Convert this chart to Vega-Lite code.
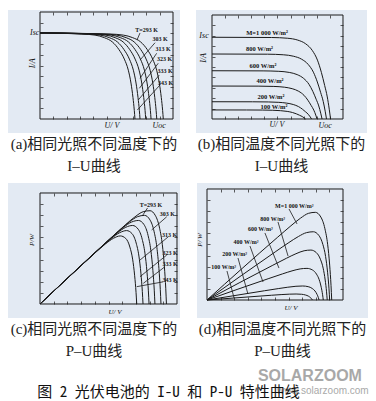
{
  "$schema": "https://vega.github.io/schema/vega-lite/v6.json",
  "padding": {"left": 8, "top": 10, "right": 0, "bottom": 0},
  "background": "white",
  "spacing": 9,
  "config": {
    "view": {"stroke": null},
    "axis": {"labels": false, "domain": false, "grid": false, "tickSize": 3, "tickColor": "#333", "tickWidth": 0.8},
    "title": {"orient": "bottom", "anchor": "middle", "offset": 4, "fontSize": 15, "lineHeight": 22, "fontWeight": "normal", "font": "Liberation Serif, Noto Sans CJK SC", "color": "#222"}
  },
  "datasets": {
    "box": [{"x0": 0, "x1": 1, "y0": 0, "y1": 1}],
    "curvesA": [
      {"s":"343","u":0.714,"i":0},{"s":"343","u":0.709,"i":0.08},{"s":"343","u":0.699,"i":0.2},{"s":"343","u":0.684,"i":0.336},{"s":"343","u":0.664,"i":0.456},{"s":"343","u":0.634,"i":0.56},{"s":"343","u":0.594,"i":0.648},{"s":"343","u":0.544,"i":0.72},{"s":"343","u":0.484,"i":0.76},{"s":"343","u":0.414,"i":0.784},{"s":"343","u":0.314,"i":0.794},{"s":"343","u":0,"i":0.805},
      {"s":"333","u":0.752,"i":0},{"s":"333","u":0.747,"i":0.08},{"s":"333","u":0.737,"i":0.2},{"s":"333","u":0.722,"i":0.336},{"s":"333","u":0.702,"i":0.456},{"s":"333","u":0.672,"i":0.56},{"s":"333","u":0.632,"i":0.648},{"s":"333","u":0.582,"i":0.72},{"s":"333","u":0.522,"i":0.76},{"s":"333","u":0.452,"i":0.784},{"s":"333","u":0.352,"i":0.794},{"s":"333","u":0,"i":0.805},
      {"s":"323","u":0.795,"i":0},{"s":"323","u":0.79,"i":0.08},{"s":"323","u":0.78,"i":0.2},{"s":"323","u":0.765,"i":0.336},{"s":"323","u":0.745,"i":0.456},{"s":"323","u":0.715,"i":0.56},{"s":"323","u":0.675,"i":0.648},{"s":"323","u":0.625,"i":0.72},{"s":"323","u":0.565,"i":0.76},{"s":"323","u":0.495,"i":0.784},{"s":"323","u":0.395,"i":0.794},{"s":"323","u":0,"i":0.805},
      {"s":"313","u":0.835,"i":0},{"s":"313","u":0.83,"i":0.08},{"s":"313","u":0.82,"i":0.2},{"s":"313","u":0.805,"i":0.336},{"s":"313","u":0.785,"i":0.456},{"s":"313","u":0.755,"i":0.56},{"s":"313","u":0.715,"i":0.648},{"s":"313","u":0.665,"i":0.72},{"s":"313","u":0.605,"i":0.76},{"s":"313","u":0.535,"i":0.784},{"s":"313","u":0.435,"i":0.794},{"s":"313","u":0,"i":0.805},
      {"s":"303","u":0.878,"i":0},{"s":"303","u":0.873,"i":0.08},{"s":"303","u":0.863,"i":0.2},{"s":"303","u":0.848,"i":0.336},{"s":"303","u":0.828,"i":0.456},{"s":"303","u":0.798,"i":0.56},{"s":"303","u":0.758,"i":0.648},{"s":"303","u":0.708,"i":0.72},{"s":"303","u":0.648,"i":0.76},{"s":"303","u":0.578,"i":0.784},{"s":"303","u":0.478,"i":0.794},{"s":"303","u":0,"i":0.805},
      {"s":"293","u":0.927,"i":0},{"s":"293","u":0.922,"i":0.08},{"s":"293","u":0.912,"i":0.2},{"s":"293","u":0.897,"i":0.336},{"s":"293","u":0.877,"i":0.456},{"s":"293","u":0.847,"i":0.56},{"s":"293","u":0.807,"i":0.648},{"s":"293","u":0.757,"i":0.72},{"s":"293","u":0.697,"i":0.76},{"s":"293","u":0.627,"i":0.784},{"s":"293","u":0.527,"i":0.794},{"s":"293","u":0,"i":0.805}
    ],
    "leadA": [
      {"x":0.752,"y":0.804,"x2":0.729,"y2":0.738},
      {"x":0.865,"y":0.713,"x2":0.752,"y2":0.551},
      {"x":0.877,"y":0.614,"x2":0.752,"y2":0.38},
      {"x":0.889,"y":0.521,"x2":0.747,"y2":0.287},
      {"x":0.897,"y":0.411,"x2":0.739,"y2":0.178},
      {"x":0.902,"y":0.318,"x2":0.732,"y2":0.084}
    ],
    "labA": [
      {"t":"T=293 K","x":0.801,"y":0.832},{"t":"303 K","x":0.902,"y":0.748},{"t":"313 K","x":0.925,"y":0.654},
      {"t":"323 K","x":0.936,"y":0.561},{"t":"333 K","x":0.94,"y":0.449},{"t":"343 K","x":0.944,"y":0.336}
    ],
    "annA": [{"t":"Isc","x":-0.04,"y":0.8},{"t":"U/ V","x":0.54,"y":-0.065},{"t":"Uoc","x":0.895,"y":-0.065}],
    "rotA": [{"t":"I/A","x":-0.05,"y":0.52}],
    "curvesB": [
      {"s":"1000","u":0.905,"i":0},{"s":"1000","u":0.895,"i":0.0943},{"s":"1000","u":0.88,"i":0.2122},{"s":"1000","u":0.86,"i":0.3223},{"s":"1000","u":0.835,"i":0.448},{"s":"1000","u":0.805,"i":0.5659},{"s":"1000","u":0.765,"i":0.6602},{"s":"1000","u":0.715,"i":0.7231},{"s":"1000","u":0.655,"i":0.7585},{"s":"1000","u":0.575,"i":0.7766},{"s":"1000","u":0.455,"i":0.7836},{"s":"1000","u":0,"i":0.786},
      {"s":"800","u":0.874,"i":0},{"s":"800","u":0.864,"i":0.075},{"s":"800","u":0.849,"i":0.1688},{"s":"800","u":0.829,"i":0.2563},{"s":"800","u":0.804,"i":0.3563},{"s":"800","u":0.774,"i":0.45},{"s":"800","u":0.734,"i":0.525},{"s":"800","u":0.684,"i":0.575},{"s":"800","u":0.624,"i":0.6031},{"s":"800","u":0.544,"i":0.6175},{"s":"800","u":0.424,"i":0.6231},{"s":"800","u":0,"i":0.625},
      {"s":"600","u":0.84,"i":0},{"s":"600","u":0.83,"i":0.0557},{"s":"600","u":0.815,"i":0.1253},{"s":"600","u":0.795,"i":0.1902},{"s":"600","u":0.77,"i":0.2645},{"s":"600","u":0.74,"i":0.3341},{"s":"600","u":0.7,"i":0.3898},{"s":"600","u":0.65,"i":0.4269},{"s":"600","u":0.59,"i":0.4478},{"s":"600","u":0.51,"i":0.4584},{"s":"600","u":0.39,"i":0.4626},{"s":"600","u":0,"i":0.464},
      {"s":"400","u":0.802,"i":0},{"s":"400","u":0.792,"i":0.038},{"s":"400","u":0.777,"i":0.0856},{"s":"400","u":0.757,"i":0.13},{"s":"400","u":0.732,"i":0.1807},{"s":"400","u":0.702,"i":0.2282},{"s":"400","u":0.662,"i":0.2663},{"s":"400","u":0.612,"i":0.2916},{"s":"400","u":0.552,"i":0.3059},{"s":"400","u":0.472,"i":0.3132},{"s":"400","u":0.352,"i":0.316},{"s":"400","u":0,"i":0.317},
      {"s":"200","u":0.76,"i":0},{"s":"200","u":0.75,"i":0.0199},{"s":"200","u":0.735,"i":0.0448},{"s":"200","u":0.715,"i":0.0681},{"s":"200","u":0.69,"i":0.0946},{"s":"200","u":0.66,"i":0.1195},{"s":"200","u":0.62,"i":0.1394},{"s":"200","u":0.57,"i":0.1527},{"s":"200","u":0.51,"i":0.1602},{"s":"200","u":0.43,"i":0.164},{"s":"200","u":0.31,"i":0.1655},{"s":"200","u":0,"i":0.166},
      {"s":"100","u":0.714,"i":0},{"s":"100","u":0.704,"i":0.0104},{"s":"100","u":0.689,"i":0.0235},{"s":"100","u":0.669,"i":0.0357},{"s":"100","u":0.644,"i":0.0496},{"s":"100","u":0.614,"i":0.0626},{"s":"100","u":0.574,"i":0.0731},{"s":"100","u":0.524,"i":0.08},{"s":"100","u":0.464,"i":0.084},{"s":"100","u":0.384,"i":0.086},{"s":"100","u":0.264,"i":0.0867},{"s":"100","u":0,"i":0.087}
    ],
    "labB": [
      {"t":"M=1 000 W/m²","x":0.42,"y":0.83},{"t":"800 W/m²","x":0.363,"y":0.67},{"t":"600 W/m²","x":0.389,"y":0.513},
      {"t":"400 W/m²","x":0.443,"y":0.365},{"t":"200 W/m²","x":0.45,"y":0.209},{"t":"100 W/m²","x":0.473,"y":0.113}
    ],
    "annB": [{"t":"Isc","x":-0.061,"y":0.798},{"t":"U/ V","x":0.496,"y":-0.058},{"t":"Uoc","x":0.863,"y":-0.067}],
    "rotB": [{"t":"I/A","x":-0.061,"y":0.587}],
    "curvesC": [
      {"s":"343","u":0.706,"p":0},{"s":"343","u":0.701,"p":0.1048},{"s":"343","u":0.691,"p":0.2543},{"s":"343","u":0.676,"p":0.4042},{"s":"343","u":0.656,"p":0.513},{"s":"343","u":0.626,"p":0.5903},{"s":"343","u":0.586,"p":0.6133},{"s":"343","u":0.536,"p":0.5917},{"s":"343","u":0.476,"p":0.5392},{"s":"343","u":0.406,"p":0.4646},{"s":"343","u":0.306,"p":0.3519},{"s":"343","u":0,"p":0},
      {"s":"333","u":0.752,"p":0},{"s":"333","u":0.747,"p":0.1117},{"s":"333","u":0.737,"p":0.2712},{"s":"333","u":0.722,"p":0.4318},{"s":"333","u":0.702,"p":0.549},{"s":"333","u":0.672,"p":0.6337},{"s":"333","u":0.632,"p":0.6614},{"s":"333","u":0.582,"p":0.6425},{"s":"333","u":0.522,"p":0.5913},{"s":"333","u":0.452,"p":0.5172},{"s":"333","u":0.352,"p":0.4048},{"s":"333","u":0,"p":0},
      {"s":"323","u":0.796,"p":0},{"s":"323","u":0.791,"p":0.1183},{"s":"323","u":0.781,"p":0.2874},{"s":"323","u":0.766,"p":0.4581},{"s":"323","u":0.746,"p":0.5834},{"s":"323","u":0.716,"p":0.6752},{"s":"323","u":0.676,"p":0.7074},{"s":"323","u":0.626,"p":0.6911},{"s":"323","u":0.566,"p":0.6411},{"s":"323","u":0.496,"p":0.5675},{"s":"323","u":0.396,"p":0.4554},{"s":"323","u":0,"p":0},
      {"s":"313","u":0.839,"p":0},{"s":"313","u":0.834,"p":0.1247},{"s":"313","u":0.824,"p":0.3032},{"s":"313","u":0.809,"p":0.4838},{"s":"313","u":0.789,"p":0.617},{"s":"313","u":0.759,"p":0.7158},{"s":"313","u":0.719,"p":0.7525},{"s":"313","u":0.669,"p":0.7386},{"s":"313","u":0.609,"p":0.6899},{"s":"313","u":0.539,"p":0.6168},{"s":"313","u":0.439,"p":0.5049},{"s":"313","u":0,"p":0},
      {"s":"303","u":0.883,"p":0},{"s":"303","u":0.878,"p":0.1313},{"s":"303","u":0.868,"p":0.3194},{"s":"303","u":0.853,"p":0.5101},{"s":"303","u":0.833,"p":0.6514},{"s":"303","u":0.803,"p":0.7573},{"s":"303","u":0.763,"p":0.7985},{"s":"303","u":0.713,"p":0.7872},{"s":"303","u":0.653,"p":0.7397},{"s":"303","u":0.583,"p":0.6671},{"s":"303","u":0.483,"p":0.5555},{"s":"303","u":0,"p":0},
      {"s":"293","u":0.923,"p":0},{"s":"293","u":0.918,"p":0.1372},{"s":"293","u":0.908,"p":0.3341},{"s":"293","u":0.893,"p":0.534},{"s":"293","u":0.873,"p":0.6827},{"s":"293","u":0.843,"p":0.795},{"s":"293","u":0.803,"p":0.8404},{"s":"293","u":0.753,"p":0.8313},{"s":"293","u":0.693,"p":0.785},{"s":"293","u":0.623,"p":0.7129},{"s":"293","u":0.523,"p":0.6015},{"s":"293","u":0,"p":0}
    ],
    "leadC": [
      {"x":0.785,"y":0.865,"x2":0.75,"y2":0.8},
      {"x":0.925,"y":0.786,"x2":0.815,"y2":0.667},
      {"x":0.937,"y":0.606,"x2":0.73,"y2":0.396},
      {"x":0.925,"y":0.441,"x2":0.73,"y2":0.246},
      {"x":0.912,"y":0.336,"x2":0.754,"y2":0.186},
      {"x":0.9,"y":0.2,"x2":0.706,"y2":0.156}
    ],
    "labC": [
      {"t":"T=293 K","x":0.81,"y":0.896},{"t":"303 K","x":0.93,"y":0.811},{"t":"313 K","x":0.945,"y":0.62},
      {"t":"323 K","x":0.95,"y":0.46},{"t":"333 K","x":0.95,"y":0.36},{"t":"343 K","x":0.95,"y":0.22}
    ],
    "annC": [{"t":"U/ V","x":0.547,"y":-0.069}],
    "rotC": [{"t":"P/W","x":-0.061,"y":0.577}],
    "curvesD": [
      {"s":"1000","u":0.917,"p":0},{"s":"1000","u":0.912,"p":0.1291},{"s":"1000","u":0.902,"p":0.3143},{"s":"1000","u":0.887,"p":0.5023},{"s":"1000","u":0.867,"p":0.6421},{"s":"1000","u":0.837,"p":0.7474},{"s":"1000","u":0.797,"p":0.7898},{"s":"1000","u":0.747,"p":0.781},{"s":"1000","u":0.687,"p":0.7369},{"s":"1000","u":0.617,"p":0.6685},{"s":"1000","u":0.517,"p":0.563},{"s":"1000","u":0,"p":0},
      {"s":"800","u":0.902,"p":0},{"s":"800","u":0.897,"p":0.1008},{"s":"800","u":0.887,"p":0.2452},{"s":"800","u":0.872,"p":0.3918},{"s":"800","u":0.852,"p":0.5005},{"s":"800","u":0.822,"p":0.5824},{"s":"800","u":0.782,"p":0.6148},{"s":"800","u":0.732,"p":0.6071},{"s":"800","u":0.672,"p":0.5719},{"s":"800","u":0.602,"p":0.5175},{"s":"800","u":0.502,"p":0.4337},{"s":"800","u":0,"p":0},
      {"s":"600","u":0.884,"p":0},{"s":"600","u":0.879,"p":0.0739},{"s":"600","u":0.869,"p":0.1799},{"s":"600","u":0.854,"p":0.2873},{"s":"600","u":0.834,"p":0.3669},{"s":"600","u":0.804,"p":0.4266},{"s":"600","u":0.764,"p":0.4498},{"s":"600","u":0.714,"p":0.4435},{"s":"600","u":0.654,"p":0.4168},{"s":"600","u":0.584,"p":0.3759},{"s":"600","u":0.484,"p":0.3131},{"s":"600","u":0,"p":0},
      {"s":"400","u":0.855,"p":0},{"s":"400","u":0.85,"p":0.0471},{"s":"400","u":0.84,"p":0.1145},{"s":"400","u":0.825,"p":0.1828},{"s":"400","u":0.805,"p":0.2332},{"s":"400","u":0.775,"p":0.2708},{"s":"400","u":0.735,"p":0.2849},{"s":"400","u":0.685,"p":0.2801},{"s":"400","u":0.625,"p":0.2623},{"s":"400","u":0.555,"p":0.2352},{"s":"400","u":0.455,"p":0.1938},{"s":"400","u":0,"p":0},
      {"s":"200","u":0.824,"p":0},{"s":"200","u":0.819,"p":0.021},{"s":"200","u":0.809,"p":0.051},{"s":"200","u":0.794,"p":0.0813},{"s":"200","u":0.774,"p":0.1037},{"s":"200","u":0.744,"p":0.1202},{"s":"200","u":0.704,"p":0.1262},{"s":"200","u":0.654,"p":0.1236},{"s":"200","u":0.594,"p":0.1152},{"s":"200","u":0.524,"p":0.1027},{"s":"200","u":0.424,"p":0.0835},{"s":"200","u":0,"p":0},
      {"s":"100","u":0.775,"p":0},{"s":"100","u":0.77,"p":0.0091},{"s":"100","u":0.76,"p":0.022},{"s":"100","u":0.745,"p":0.0351},{"s":"100","u":0.725,"p":0.0447},{"s":"100","u":0.695,"p":0.0517},{"s":"100","u":0.655,"p":0.054},{"s":"100","u":0.605,"p":0.0526},{"s":"100","u":0.545,"p":0.0487},{"s":"100","u":0.475,"p":0.0428},{"s":"100","u":0.375,"p":0.034},{"s":"100","u":0,"p":0}
    ],
    "leadD": [
      {"x":0.603,"y":0.82,"x2":0.662,"y2":0.685},
      {"x":0.522,"y":0.703,"x2":0.596,"y2":0.396},
      {"x":0.426,"y":0.604,"x2":0.529,"y2":0.288},
      {"x":0.316,"y":0.486,"x2":0.412,"y2":0.162},
      {"x":0.228,"y":0.378,"x2":0.301,"y2":0.054},
      {"x":0.147,"y":0.261,"x2":0.199,"y2":0.018}
    ],
    "labD": [
      {"t":"M=1 000 W/m²","x":0.642,"y":0.847},{"t":"800 W/m²","x":0.483,"y":0.73},{"t":"600 W/m²","x":0.392,"y":0.637},
      {"t":"400 W/m²","x":0.287,"y":0.52},{"t":"200 W/m²","x":0.203,"y":0.412},{"t":"100 W/m²","x":0.123,"y":0.295}
    ],
    "annD": [{"t":"U/ V","x":0.618,"y":-0.075}],
    "rotD": [{"t":"P/ W","x":-0.049,"y":0.541}],
    "capMain": [{"t":"图 2 光伏电池的 I-U 和 P-U 特性曲线","x":0.447,"y":0.394}],
    "wm1": [{"t":"SOLARZOOM","x":0.841,"y":0.87}],
    "wm2": [{"t":"www.solarzoom.com","x":0.877,"y":0.42}]
  },
  "vconcat": [
    {
      "spacing": 16,
      "hconcat": [
        {
          "width": 172, "height": 123,
          "view": {"fill": "#e3eaf3", "stroke": null},
          "title": {"text": ["(a)相同光照不同温度下的", "I–U曲线"]},
          "resolve": {"axis": {"x": "independent", "y": "independent"}},
          "layer": [
            {"data": {"name": "box"}, "mark": {"type": "rect", "fill": "white", "fillOpacity": 0, "stroke": "#1a1a1a", "strokeWidth": 1},
             "encoding": {
               "x": {"field": "x0", "type": "quantitative", "scale": {"domain": [-0.2406, 1.0526], "nice": false, "zero": false}, "axis": {"orient": "top", "offset": -109, "title": null, "values": [0.1,0.2,0.3,0.4,0.5,0.6,0.7,0.8,0.9]}},
               "x2": {"field": "x1"},
               "y": {"field": "y0", "type": "quantitative", "scale": {"domain": [-0.1308, 1.0187], "nice": false, "zero": false}, "axis": {"orient": "right", "offset": -140, "title": null, "values": [0.1,0.2,0.3,0.4,0.5,0.6,0.7,0.8,0.9]}},
               "y2": {"field": "y1"}}},
            {"data": {"name": "curvesA"}, "mark": {"type": "line", "interpolate": "monotone", "color": "#1a1a1a", "strokeWidth": 1},
             "encoding": {
               "x": {"field": "u", "type": "quantitative", "scale": {"domain": [-0.2406, 1.0526], "nice": false, "zero": false}, "axis": {"orient": "bottom", "offset": -121, "title": null, "values": [0.1,0.2,0.3,0.4,0.5,0.6,0.7,0.8,0.9]}},
               "y": {"field": "i", "type": "quantitative", "scale": {"domain": [-0.1308, 1.0187], "nice": false, "zero": false}, "axis": {"orient": "left", "offset": -165, "title": null, "values": [0.1,0.2,0.3,0.4,0.5,0.6,0.7,0.8,0.9]}},
               "detail": {"field": "s"}}},
            {"data": {"name": "leadA"}, "mark": {"type": "rule", "color": "#1a1a1a", "strokeWidth": 0.8},
             "encoding": {"x": {"field": "x", "type": "quantitative", "axis": null}, "y": {"field": "y", "type": "quantitative", "axis": null}, "x2": {"field": "x2"}, "y2": {"field": "y2"}}},
            {"data": {"name": "labA"}, "mark": {"type": "text", "font": "Liberation Serif", "fontSize": 6, "fontWeight": "bold", "color": "#111"},
             "encoding": {"x": {"field": "x", "type": "quantitative", "axis": null}, "y": {"field": "y", "type": "quantitative", "axis": null}, "text": {"field": "t"}}},
            {"data": {"name": "annA"}, "mark": {"type": "text", "font": "Liberation Serif", "fontSize": 8, "fontStyle": "italic", "color": "#111"},
             "encoding": {"x": {"field": "x", "type": "quantitative", "axis": null}, "y": {"field": "y", "type": "quantitative", "axis": null}, "text": {"field": "t"}}},
            {"data": {"name": "rotA"}, "mark": {"type": "text", "font": "Liberation Serif", "fontSize": 8, "fontStyle": "italic", "angle": 270, "color": "#111"},
             "encoding": {"x": {"field": "x", "type": "quantitative", "axis": null}, "y": {"field": "y", "type": "quantitative", "axis": null}, "text": {"field": "t"}}}
          ]
        },
        {
          "width": 171, "height": 123,
          "view": {"fill": "#e3eaf3", "stroke": null},
          "title": {"text": ["(b)相同温度不同光照下的", "I–U曲线"]},
          "resolve": {"axis": {"x": "independent", "y": "independent"}},
          "layer": [
            {"data": {"name": "box"}, "mark": {"type": "rect", "fill": "white", "fillOpacity": 0, "stroke": "#1a1a1a", "strokeWidth": 1},
             "encoding": {
               "x": {"field": "x0", "type": "quantitative", "scale": {"domain": [-0.12214, 1.18321], "nice": false, "zero": false}, "axis": {"orient": "top", "offset": -109, "title": null, "values": [0.1,0.2,0.3,0.4,0.5,0.6,0.7,0.8,0.9]}},
               "x2": {"field": "x1"},
               "y": {"field": "y0", "type": "quantitative", "scale": {"domain": [-0.13462, 1.04808], "nice": false, "zero": false}, "axis": {"orient": "right", "offset": -155, "title": null, "values": [0.1,0.2,0.3,0.4,0.5,0.6,0.7,0.8,0.9]}},
               "y2": {"field": "y1"}}},
            {"data": {"name": "curvesB"}, "mark": {"type": "line", "interpolate": "monotone", "color": "#1a1a1a", "strokeWidth": 1},
             "encoding": {
               "x": {"field": "u", "type": "quantitative", "scale": {"domain": [-0.12214, 1.18321], "nice": false, "zero": false}, "axis": {"orient": "bottom", "offset": -118, "title": null, "values": [0.1,0.2,0.3,0.4,0.5,0.6,0.7,0.8,0.9]}},
               "y": {"field": "i", "type": "quantitative", "scale": {"domain": [-0.13462, 1.04808], "nice": false, "zero": false}, "axis": {"orient": "left", "offset": -147, "title": null, "values": [0.1,0.2,0.3,0.4,0.5,0.6,0.7,0.8,0.9]}},
               "detail": {"field": "s"}}},
            {"data": {"name": "labB"}, "mark": {"type": "text", "font": "Liberation Serif", "fontSize": 6.5, "fontWeight": "bold", "color": "#111"},
             "encoding": {"x": {"field": "x", "type": "quantitative", "axis": null}, "y": {"field": "y", "type": "quantitative", "axis": null}, "text": {"field": "t"}}},
            {"data": {"name": "annB"}, "mark": {"type": "text", "font": "Liberation Serif", "fontSize": 8, "fontStyle": "italic", "color": "#111"},
             "encoding": {"x": {"field": "x", "type": "quantitative", "axis": null}, "y": {"field": "y", "type": "quantitative", "axis": null}, "text": {"field": "t"}}},
            {"data": {"name": "rotB"}, "mark": {"type": "text", "font": "Liberation Serif", "fontSize": 8, "fontStyle": "italic", "angle": 270, "color": "#111"},
             "encoding": {"x": {"field": "x", "type": "quantitative", "axis": null}, "y": {"field": "y", "type": "quantitative", "axis": null}, "text": {"field": "t"}}}
          ]
        }
      ]
    },
    {
      "spacing": 16,
      "hconcat": [
        {
          "width": 172, "height": 135,
          "view": {"fill": "#e3eaf3", "stroke": null},
          "title": {"text": ["(c)相同光照不同温度下的", "P–U曲线"]},
          "resolve": {"axis": {"x": "independent", "y": "independent"}},
          "layer": [
            {"data": {"name": "box"}, "mark": {"type": "rect", "fill": "white", "fillOpacity": 0, "stroke": "#1a1a1a", "strokeWidth": 1},
             "encoding": {
               "x": {"field": "x0", "type": "quantitative", "scale": {"domain": [-0.23358, 1.0219], "nice": false, "zero": false}, "axis": {"orient": "top", "offset": -121, "title": null, "values": [0.1,0.2,0.3,0.4,0.5,0.6,0.7,0.8,0.9]}},
               "x2": {"field": "x1"},
               "y": {"field": "y0", "type": "quantitative", "scale": {"domain": [-0.12613, 1.09009], "nice": false, "zero": false}, "axis": {"orient": "right", "offset": -140, "title": null, "values": [0.1,0.2,0.3,0.4,0.5,0.6,0.7,0.8,0.9]}},
               "y2": {"field": "y1"}}},
            {"data": {"name": "curvesC"}, "mark": {"type": "line", "interpolate": "monotone", "color": "#1a1a1a", "strokeWidth": 1},
             "encoding": {
               "x": {"field": "u", "type": "quantitative", "scale": {"domain": [-0.23358, 1.0219], "nice": false, "zero": false}, "axis": {"orient": "bottom", "offset": -125, "title": null, "values": [0.1,0.2,0.3,0.4,0.5,0.6,0.7,0.8,0.9]}},
               "y": {"field": "p", "type": "quantitative", "scale": {"domain": [-0.12613, 1.09009], "nice": false, "zero": false}, "axis": {"orient": "left", "offset": -169, "title": null, "values": [0.1,0.2,0.3,0.4,0.5,0.6,0.7,0.8,0.9]}},
               "detail": {"field": "s"}}},
            {"data": {"name": "leadC"}, "mark": {"type": "rule", "color": "#1a1a1a", "strokeWidth": 0.8},
             "encoding": {"x": {"field": "x", "type": "quantitative", "axis": null}, "y": {"field": "y", "type": "quantitative", "axis": null}, "x2": {"field": "x2"}, "y2": {"field": "y2"}}},
            {"data": {"name": "labC"}, "mark": {"type": "text", "font": "Liberation Serif", "fontSize": 6, "fontWeight": "bold", "color": "#111"},
             "encoding": {"x": {"field": "x", "type": "quantitative", "axis": null}, "y": {"field": "y", "type": "quantitative", "axis": null}, "text": {"field": "t"}}},
            {"data": {"name": "annC"}, "mark": {"type": "text", "font": "Liberation Serif", "fontSize": 7, "fontStyle": "italic", "color": "#111"},
             "encoding": {"x": {"field": "x", "type": "quantitative", "axis": null}, "y": {"field": "y", "type": "quantitative", "axis": null}, "text": {"field": "t"}}},
            {"data": {"name": "rotC"}, "mark": {"type": "text", "font": "Liberation Serif", "fontSize": 7, "fontStyle": "italic", "angle": 270, "color": "#111"},
             "encoding": {"x": {"field": "x", "type": "quantitative", "axis": null}, "y": {"field": "y", "type": "quantitative", "axis": null}, "text": {"field": "t"}}}
          ]
        },
        {
          "width": 171, "height": 135,
          "view": {"fill": "#e3eaf3", "stroke": null},
          "title": {"text": ["(d)相同温度不同光照下的", "P–U曲线"]},
          "resolve": {"axis": {"x": "independent", "y": "independent"}},
          "layer": [
            {"data": {"name": "box"}, "mark": {"type": "rect", "fill": "white", "fillOpacity": 0, "stroke": "#1a1a1a", "strokeWidth": 1},
             "encoding": {
               "x": {"field": "x0", "type": "quantitative", "scale": {"domain": [-0.07353, 1.18382], "nice": false, "zero": false}, "axis": {"orient": "top", "offset": -117, "title": null, "values": [0.1,0.2,0.3,0.4,0.5,0.6,0.7,0.8,0.9]}},
               "x2": {"field": "x1"},
               "y": {"field": "y0", "type": "quantitative", "scale": {"domain": [-0.16216, 1.05405], "nice": false, "zero": false}, "axis": {"orient": "right", "offset": -161, "title": null, "values": [0.1,0.2,0.3,0.4,0.5,0.6,0.7,0.8,0.9]}},
               "y2": {"field": "y1"}}},
            {"data": {"name": "curvesD"}, "mark": {"type": "line", "interpolate": "monotone", "color": "#1a1a1a", "strokeWidth": 1},
             "encoding": {
               "x": {"field": "u", "type": "quantitative", "scale": {"domain": [-0.07353, 1.18382], "nice": false, "zero": false}, "axis": {"orient": "bottom", "offset": -129, "title": null, "values": [0.1,0.2,0.3,0.4,0.5,0.6,0.7,0.8,0.9]}},
               "y": {"field": "p", "type": "quantitative", "scale": {"domain": [-0.16216, 1.05405], "nice": false, "zero": false}, "axis": {"orient": "left", "offset": -146, "title": null, "values": [0.1,0.2,0.3,0.4,0.5,0.6,0.7,0.8,0.9]}},
               "detail": {"field": "s"}}},
            {"data": {"name": "leadD"}, "mark": {"type": "rule", "color": "#1a1a1a", "strokeWidth": 0.8},
             "encoding": {"x": {"field": "x", "type": "quantitative", "axis": null}, "y": {"field": "y", "type": "quantitative", "axis": null}, "x2": {"field": "x2"}, "y2": {"field": "y2"}}},
            {"data": {"name": "labD"}, "mark": {"type": "text", "font": "Liberation Serif", "fontSize": 6, "fontWeight": "bold", "color": "#111"},
             "encoding": {"x": {"field": "x", "type": "quantitative", "axis": null}, "y": {"field": "y", "type": "quantitative", "axis": null}, "text": {"field": "t"}}},
            {"data": {"name": "annD"}, "mark": {"type": "text", "font": "Liberation Serif", "fontSize": 7, "fontStyle": "italic", "color": "#111"},
             "encoding": {"x": {"field": "x", "type": "quantitative", "axis": null}, "y": {"field": "y", "type": "quantitative", "axis": null}, "text": {"field": "t"}}},
            {"data": {"name": "rotD"}, "mark": {"type": "text", "font": "Liberation Serif", "fontSize": 7, "fontStyle": "italic", "angle": 270, "color": "#111"},
             "encoding": {"x": {"field": "x", "type": "quantitative", "axis": null}, "y": {"field": "y", "type": "quantitative", "axis": null}, "text": {"field": "t"}}}
          ]
        }
      ]
    },
    {
      "width": 359, "height": 33,
      "view": {"stroke": null},
      "layer": [
        {"data": {"name": "wm1"}, "mark": {"type": "text", "font": "Liberation Sans", "fontSize": 16, "fontWeight": "bold", "color": "#9a9a9a", "opacity": 0.85},
         "encoding": {"x": {"field": "x", "type": "quantitative", "scale": {"domain": [0, 1]}, "axis": null}, "y": {"field": "y", "type": "quantitative", "scale": {"domain": [0, 1]}, "axis": null}, "text": {"field": "t"}}},
        {"data": {"name": "wm2"}, "mark": {"type": "text", "font": "Liberation Sans", "fontSize": 10, "color": "#9a9a9a", "opacity": 0.85},
         "encoding": {"x": {"field": "x", "type": "quantitative", "scale": {"domain": [0, 1]}, "axis": null}, "y": {"field": "y", "type": "quantitative", "scale": {"domain": [0, 1]}, "axis": null}, "text": {"field": "t"}}},
        {"data": {"name": "capMain"}, "mark": {"type": "text", "font": "Noto Sans Mono CJK SC, Noto Sans CJK SC", "fontSize": 15, "color": "#111"},
         "encoding": {"x": {"field": "x", "type": "quantitative", "scale": {"domain": [0, 1]}, "axis": null}, "y": {"field": "y", "type": "quantitative", "scale": {"domain": [0, 1]}, "axis": null}, "text": {"field": "t"}}}
      ]
    }
  ]
}
